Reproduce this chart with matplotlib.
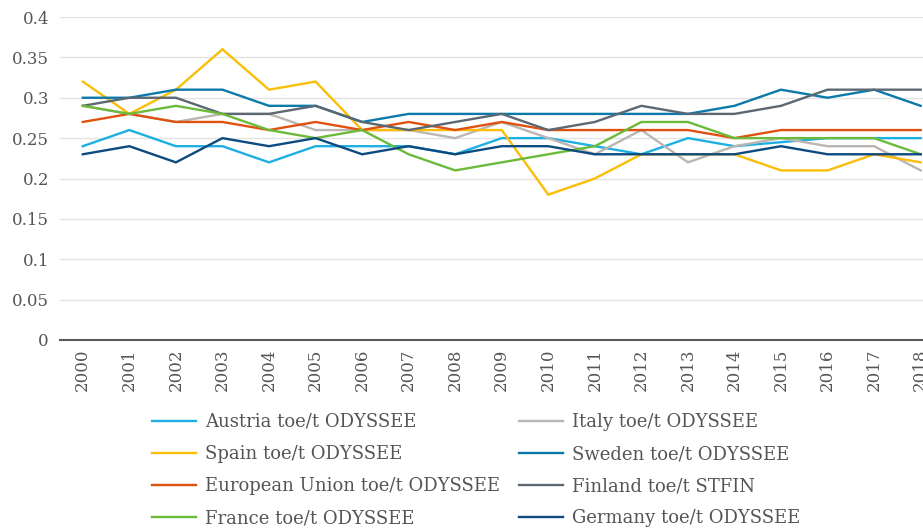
import matplotlib
matplotlib.use("Agg")
import matplotlib.pyplot as plt

plt.rcParams.update({
    "font.family": "serif",
    "font.serif": ["DejaVu Serif", "Liberation Serif"],
    "text.color": "#555555",
    "xtick.color": "#555555", "ytick.color": "#555555",
})

years = [str(y) for y in range(2000, 2019)]
austria = [0.24, 0.26, 0.24, 0.24, 0.22, 0.24, 0.24, 0.24, 0.23, 0.25,
           0.25, 0.24, 0.23, 0.25, 0.24, 0.245, 0.25, 0.25, 0.25]
italy = [0.29, 0.28, 0.27, 0.28, 0.28, 0.26, 0.26, 0.26, 0.25, 0.27,
         0.25, 0.23, 0.26, 0.22, 0.24, 0.25, 0.24, 0.24, 0.21]
spain = [0.32, 0.28, 0.31, 0.36, 0.31, 0.32, 0.26, 0.26, 0.26, 0.26,
         0.18, 0.20, 0.23, 0.23, 0.23, 0.21, 0.21, 0.23, 0.22]
sweden = [0.30, 0.30, 0.31, 0.31, 0.29, 0.29, 0.27, 0.28, 0.28, 0.28,
          0.28, 0.28, 0.28, 0.28, 0.29, 0.31, 0.30, 0.31, 0.29]
eu = [0.27, 0.28, 0.27, 0.27, 0.26, 0.27, 0.26, 0.27, 0.26, 0.27,
      0.26, 0.26, 0.26, 0.26, 0.25, 0.26, 0.26, 0.26, 0.26]
finland = [0.29, 0.30, 0.30, 0.28, 0.28, 0.29, 0.27, 0.26, 0.27, 0.28,
           0.26, 0.27, 0.29, 0.28, 0.28, 0.29, 0.31, 0.31, 0.31]
france = [0.29, 0.28, 0.29, 0.28, 0.26, 0.25, 0.26, 0.23, 0.21, 0.22,
          0.23, 0.24, 0.27, 0.27, 0.25, 0.25, 0.25, 0.25, 0.23]
germany = [0.23, 0.24, 0.22, 0.25, 0.24, 0.25, 0.23, 0.24, 0.23, 0.24,
           0.24, 0.23, 0.23, 0.23, 0.23, 0.24, 0.23, 0.23, 0.23]

series = [
    ("Austria toe/t ODYSSEE", austria, "#1cb0e2"),
    ("Italy toe/t ODYSSEE", italy, "#bcb6b2"),
    ("Spain toe/t ODYSSEE", spain, "#fbbd05"),
    ("Sweden toe/t ODYSSEE", sweden, "#0b7aaa"),
    ("European Union toe/t ODYSSEE", eu, "#e0500f"),
    ("Finland toe/t STFIN", finland, "#5b6873"),
    ("France toe/t ODYSSEE", france, "#6cba3a"),
    ("Germany toe/t ODYSSEE", germany, "#0c4a7f"),
]
yticks = [0, 0.05, 0.1, 0.15, 0.2, 0.25, 0.3, 0.35, 0.4]
ylabels = ["0", "0.05", "0.1", "0.15", "0.2", "0.25", "0.3", "0.35", "0.4"]

W, H = 923, 532
fig = plt.figure(figsize=(W / 100, H / 100), dpi=100)
ax = fig.add_axes([60 / W, 1 - 340 / H, 1 - 60 / W, 323 / H])

x = list(range(len(years)))
handles = {}
for name, vals, col in series:
    (ln,) = ax.plot(x, vals, color=col, lw=1.7, label=name, solid_joinstyle="miter")
    handles[name] = ln

ax.set_ylim(0, 0.4)
ax.set_xlim(-0.49, len(years) - 1 + 0.05)
ax.set_yticks(yticks)
ax.set_yticklabels(ylabels, fontsize=12)
ax.set_xticks(x)
ax.set_xticklabels(years, rotation=90, fontsize=12)
ax.tick_params(length=0, pad=8)
ax.tick_params(axis="x", pad=6)
ax.grid(axis="y", color="#e3e3e3", lw=1)
ax.set_axisbelow(True)
for s in ["top", "right", "left"]:
    ax.spines[s].set_visible(False)
ax.spines["bottom"].set_color("#595959")
ax.spines["bottom"].set_linewidth(1.5)

# legend laid out row by row, two columns placed separately
names = [s[0] for s in series]
left_col = names[0::2]
right_col = names[1::2]
for col_names, xpos in [(left_col, 152), (right_col, 519)]:
    fig.legend([handles[n] for n in col_names], col_names,
               loc="upper left", bbox_to_anchor=(xpos / W, 1 - 413 / H),
               frameon=False, fontsize=13, handlelength=2.45,
               handletextpad=0.5, labelspacing=0.78,
               borderpad=0, borderaxespad=0, labelcolor="#555555")

fig.savefig("out.png", dpi=100)
